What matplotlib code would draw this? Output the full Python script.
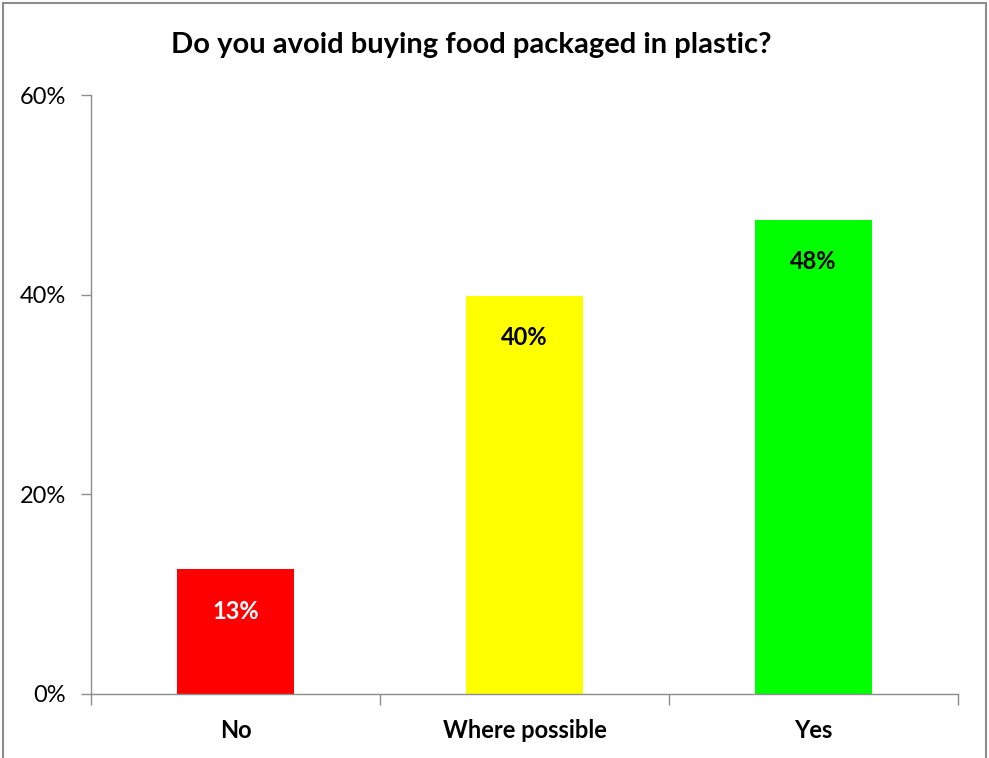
import matplotlib
matplotlib.use("Agg")
import matplotlib.pyplot as plt
from matplotlib.patches import Rectangle
from matplotlib.ticker import FuncFormatter, FixedLocator, NullFormatter

categories = ["No", "Where possible", "Yes"]
values = [12.5, 39.9, 47.5]
labels = ["13%", "40%", "48%"]
colors = ["#ff0000", "#ffff00", "#00ff00"]
label_colors = ["white", "black", "black"]
yticks = [0, 20, 40, 60]

plt.rcParams['font.family'] = ['Lato', 'DejaVu Sans']

fig = plt.figure(figsize=(9.89, 7.58), dpi=100)
fig.patches.append(Rectangle((3/989, -0.01), 983/989, 1 - 3/758 + 0.01,
                             transform=fig.transFigure, fill=False,
                             edgecolor="#8c8c8c", linewidth=1.5))

ax = fig.add_axes([91/989, 1 - 694/758, (958 - 91)/989, (694 - 95)/758])
x = list(range(len(categories)))
ax.bar(x, values, width=0.405, color=colors, zorder=2)

for xi, v, lab, c in zip(x, values, labels, label_colors):
    ax.annotate(lab, (xi, v), xytext=(0, -22), textcoords="offset points",
                ha="center", va="top", fontsize=17, fontweight="bold", color=c)

ax.set_xlim(-0.5, 2.5)
ax.set_ylim(0, 60)
ax.set_yticks(yticks)
ax.yaxis.set_major_formatter(FuncFormatter(lambda v, p: f"{int(v)}%"))
ax.tick_params(axis="y", length=7, color="#8c8c8c", labelsize=17, pad=11, width=1)

ax.xaxis.set_major_locator(FixedLocator([-0.5, 0.5, 1.5, 2.5]))
ax.xaxis.set_major_formatter(NullFormatter())
ax.xaxis.set_minor_locator(FixedLocator(x))
ax.set_xticklabels(categories, minor=True)
ax.tick_params(axis="x", which="major", length=8, color="#8c8c8c", width=1)
ax.tick_params(axis="x", which="minor", length=0, labelsize=17, pad=18)
for t in ax.get_xticklabels(minor=True):
    t.set_fontweight("bold")

for s in ["top", "right"]:
    ax.spines[s].set_visible(False)
for s in ["left", "bottom"]:
    ax.spines[s].set_color("#8c8c8c")
    ax.spines[s].set_linewidth(1)

fig.text(471/989, 1 - 45/758, "Do you avoid buying food packaged in plastic?",
         ha="center", va="center", fontsize=21, fontweight="bold")

fig.savefig("out.png", dpi=100)
